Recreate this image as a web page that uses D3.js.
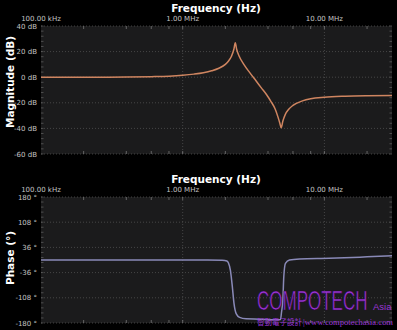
<!DOCTYPE html>
<html>
<head>
<meta charset="utf-8">
<script src="https://cdn.jsdelivr.net/npm/d3@7"></script>
<style>
  body { margin: 0; background: #000; }
  svg { display: block; }
</style>
</head>
<body>
<div id="Canvas"></div>
<script>
// 數據
const freqTicks = [1e5, 1e6, 1e7]
const freqTickLabels = ["100.00 kHz", "1.00 MHz", "10.00 MHz"]
const minorMult = [2, 4, 6, 8]

const magTicks = [40, 20, 0, -20, -40, -60]
const magTickLabels = ["40 dB", "20 dB", "0 dB", "-20 dB", "-40 dB", "-60 dB"]
const phaseTicks = [180, 108, 36, -36, -108, -180]
const phaseTickLabels = ["180 °", "108 °", "36 °", "-36 °", "-108 °", "-180 °"]

// 幅度 (MHz, dB)
const magFreqMHz = [0.1, 0.2, 0.4, 0.6, 0.8, 1.0, 1.2, 1.4, 1.6, 1.8, 2.0, 2.1, 2.2, 2.3, 2.35,
  2.4, 2.5, 2.7, 3.0, 3.3, 3.6, 3.9, 4.2, 4.5, 4.7, 4.85, 4.95, 5.1, 5.3, 5.6, 6.0, 7.0, 8.0,
  10, 14, 20, 30]
const magDB = [0, 0, 0.1, 0.4, 0.8, 1.5, 2.4, 3.5, 5, 7, 10, 12.5, 16, 22, 27,
  22, 16.5, 10, 3, -3, -8.5, -13.5, -19, -25, -31, -36, -39.5, -34, -29, -25, -22, -18.5, -16.8,
  -15.6, -14.8, -14.4, -14.2]

// 相位 (MHz, °)
const phaseFreqMHz = [0.1, 0.5, 1.0, 1.5, 1.9, 2.05, 2.1, 2.17, 2.24, 2.3, 2.39, 2.52, 2.8,
  3.5, 4.5, 4.9, 4.98, 5.09, 5.17, 5.31, 5.67, 6.67, 10.8, 20, 30]
const phaseDeg = [0, 0, 0, 0, -1, -3, -8, -29, -76, -123, -154, -164, -168,
  -169, -171, -170, -150, -114, -48, -9.5, 0, 3, 5, 9, 12]

let svg = d3.select("#Canvas")
    .append("svg")
    .attr("width", 397)
    .attr("height", 330)
    .style("background", "#000")

let X_Scale = d3.scaleLog()
    .domain([1e5, 3e7])
    .range([41, 392])

function drawPanel(top, bottom, yDomain, yTicks, yLabels, minorStep, yTitle, xs, ys, color, id){
    let Y_Scale = d3.scaleLinear().domain(yDomain).range([bottom, top])
    let g = svg.append("g")

    g.append("rect")
        .attr("x", X_Scale.range()[0]).attr("y", top)
        .attr("width", X_Scale.range()[1] - X_Scale.range()[0])
        .attr("height", bottom - top)
        .style("fill", "#1b1b1c")

    // 水平網格
    g.selectAll(".hgrid").data(yTicks).enter()
        .append("line")
        .attr("x1", X_Scale.range()[0]).attr("x2", X_Scale.range()[1])
        .attr("y1", d => Y_Scale(d)).attr("y2", d => Y_Scale(d))
        .style("stroke", "#505050").style("stroke-width", "0.8px")
        .style("stroke-dasharray", "1,2")

    // 垂直網格
    g.selectAll(".vgrid").data(freqTicks.slice(1)).enter()
        .append("line")
        .attr("x1", d => X_Scale(d)).attr("x2", d => X_Scale(d))
        .attr("y1", top).attr("y2", bottom)
        .style("stroke", "#505050").style("stroke-width", "0.8px")
        .style("stroke-dasharray", "1,2")

    // 次刻度 x
    let minorX = []
    freqTicks.forEach(d => minorMult.forEach(m => { if (d * m <= 3e7) minorX.push(d * m) }))
    g.selectAll(".mx").data(minorX.concat(freqTicks.slice(1))).enter()
        .append("path")
        .attr("d", d => "M" + X_Scale(d) + "," + top + "v3M" + X_Scale(d) + "," + bottom + "v-3")
        .style("stroke", "#777").style("stroke-width", "0.8px")

    // 次刻度 y
    let minorY = d3.range(yDomain[0], yDomain[1] + 0.001, minorStep)
    g.selectAll(".my").data(minorY).enter()
        .append("path")
        .attr("d", d => "M41," + Y_Scale(d) + "h2.5M392," + Y_Scale(d) + "h-2.5")
        .style("stroke", "#666").style("stroke-width", "0.7px")

    // 刻度文字
    g.selectAll(".ylab").data(yTicks).enter()
        .append("text")
        .attr("x", 37).attr("y", d => Y_Scale(d) + 2.5)
        .attr("text-anchor", "end")
        .style("font-family", "DejaVu Sans").style("font-size", "7px")
        .style("fill", "#c4c4c4")
        .text((d, i) => yLabels[i])

    g.selectAll(".xlab").data(freqTicks).enter()
        .append("text")
        .attr("x", d => X_Scale(d)).attr("y", top - 5)
        .attr("text-anchor", "middle")
        .style("font-family", "DejaVu Sans").style("font-size", "7px")
        .style("fill", "#c4c4c4")
        .text((d, i) => freqTickLabels[i])

    g.append("text")
        .attr("x", 216).attr("y", top - 14)
        .attr("text-anchor", "middle")
        .style("font-family", "DejaVu Sans").style("font-weight", "bold")
        .style("font-size", "10.5px").style("fill", "#fff")
        .text("Frequency (Hz)")

    g.append("text")
        .attr("transform", "translate(14," + (yTitle) + ") rotate(-90)")
        .attr("text-anchor", "middle")
        .style("font-family", "DejaVu Sans").style("font-weight", "bold")
        .style("font-size", "10.5px").style("fill", "#fff")
        .text(id === "mag" ? "Magnitude (dB)" : "Phase (°)")

    g.append("clipPath").attr("id", "clip_" + id)
        .append("rect")
        .attr("x", 41).attr("y", top).attr("width", 351).attr("height", bottom - top)

    let l = d3.line()
        .x((d, i) => X_Scale(xs[i] * 1e6))
        .y(d => Y_Scale(d))
        .curve(d3.curveMonotoneX)

    g.append("path")
        .attr("d", l(ys))
        .attr("clip-path", "url(#clip_" + id + ")")
        .attr("fill", "none")
        .attr("stroke", color)
        .attr("stroke-width", 1.5)
}

drawPanel(26, 154, [-60, 40], magTicks, magTickLabels, 4, 82, magFreqMHz, magDB, "#cf8560", "mag")
drawPanel(197, 323, [-180, 180], phaseTicks, phaseTickLabels, 14.4, 258, phaseFreqMHz, phaseDeg, "#8a8ab8", "phase")

// 浮水印
let wm = svg.append("g").style("fill", "#9a35d6")
wm.append("text")
    .attr("transform", "translate(257,310) scale(1,1.6)")
    .style("font-family", "Liberation Sans")
    .style("font-size", "17px")
    .style("stroke", "#2a0a3a").style("stroke-width", "0.4px")
    .text("COMPOTECH")
wm.append("text")
    .attr("x", 373).attr("y", 310)
    .style("font-family", "Liberation Sans").style("font-size", "9.5px")
    .text("Asia")
wm.append("text")
    .attr("x", 257).attr("y", 324.5)
    .style("font-family", "Noto Sans CJK TC").style("font-size", "7.5px")
    .text("智動電子設計")
wm.append("text")
    .attr("x", 303).attr("y", 324.5)
    .style("font-family", "Liberation Serif").style("font-size", "8.6px")
    .text("|www.compotechasia.com")
</script>
</body>
</html>
